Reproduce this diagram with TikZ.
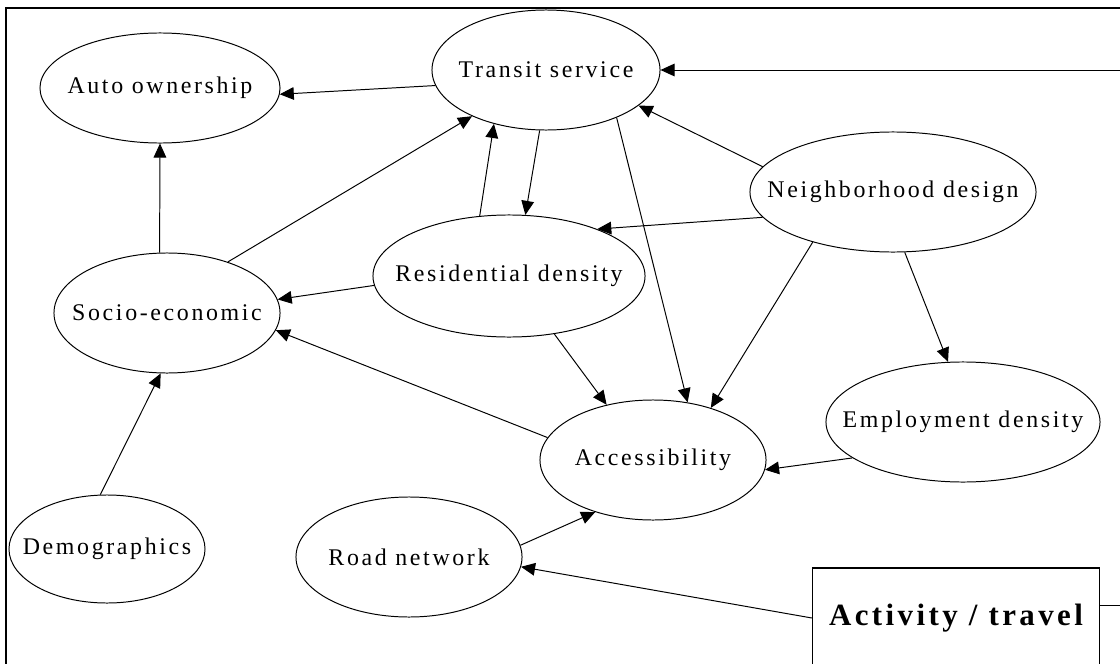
\documentclass[tikz,border=0pt]{standalone}
\usepackage{fontspec}
\setmainfont{Liberation Serif}[LetterSpace=11]
\usetikzlibrary{shapes.geometric, arrows.meta}

\newcommand{\bubtext}[1]{\makebox[0pt]{#1}}

\tikzset{
    bubble/.style={
        ellipse, draw=black, line width=0.7pt, inner sep=0pt, text centered
    },
    actbox/.style={
        rectangle, draw=black, line width=0.8pt, minimum width=7.175cm, minimum height=2.5cm, text centered, font=\fontsize{22}{26}\selectfont\bfseries
    },
    arrow/.style={
        line width=0.7pt, -{Triangle[length=10pt, width=9pt]}
    }
}

\begin{document}
\begin{tikzpicture}[x=0.025cm, y=-0.025cm, every node/.style={font=\fontsize{17}{20}\selectfont}]
    \useasboundingbox (0,0) rectangle (1120,664);
    \clip (0,0) rectangle (1120,664);

    % Frame
    \draw [line width=1.6pt] (6,700) -- (6,8) -- (1130,8);

    % Nodes
    \node (auto) [bubble, minimum width=6cm, minimum height=2.75cm] at (160,88) {\bubtext{Auto ownership}};
    \node (transit) [bubble, minimum width=5.7cm, minimum height=3cm] at (546,70) {\bubtext{Transit service}};
    \node (neigh) [bubble, minimum width=7.15cm, minimum height=3cm] at (893,192) {\bubtext{Neighborhood design}};
    \node (res) [bubble, minimum width=6.8cm, minimum height=3.05cm] at (509,276) {\bubtext{Residential density}};
    \node (socio) [bubble, minimum width=5.65cm, minimum height=3cm] at (167,313) {\bubtext{Socio-economic}};
    \node (access) [bubble, minimum width=5.65cm, minimum height=3cm] at (653,460) {\bubtext{Accessibility}};
    \node (employ) [bubble, minimum width=6.85cm, minimum height=3cm] at (963,422) {\bubtext{Employment density}};
    \node (demo) [bubble, minimum width=4.9cm, minimum height=2.7cm] at (107,549) {\bubtext{Demographics}};
    \node (road) [bubble, minimum width=5.65cm, minimum height=3cm] at (409,557) {\bubtext{Road network}};
    \node (act) [actbox] at (956,618) {Activity / travel};

    \coordinate (feedin) at (1120,70);
    \coordinate (actout) at (1120,605);

    % Connections
    \draw [arrow] (transit.188) -- (auto.357);
    \draw [arrow] (socio.97) -- (auto.270);
    \draw [arrow] (socio.40) -- (transit.212);
    \draw [arrow] (res.116) -- (transit.226);
    \draw [arrow] (transit.264) -- (res.75);
    \draw [arrow] (transit.326) -- (access.59);
    \draw [arrow] (neigh.169) -- (transit.339);
    \draw [arrow] (neigh.191) -- (res.28);
    \draw [arrow] (neigh.212) -- (access.42);
    \draw [arrow] (neigh.281) -- (employ.104);
    \draw [arrow] (res.184) -- (socio.7);
    \draw [arrow] (access.168) -- (socio.351);
    \draw [arrow] (res.308) -- (access.130);
    \draw [arrow] (employ.198) -- (access.355);
    \draw [arrow] (road.6) -- (access.222);
    \draw [arrow] (demo.97) -- (socio.264);
    \draw [arrow] (act.west) -- (road.355);
    \draw [arrow] (feedin) -- (transit.east);
    \draw [line width=0.7pt] (act.east |- actout) -- (actout);
\end{tikzpicture}
\end{document}
